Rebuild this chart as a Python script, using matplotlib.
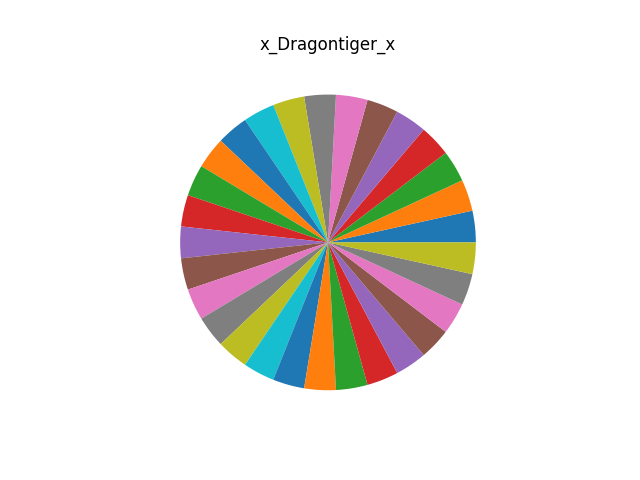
import matplotlib
matplotlib.use('Agg')
import matplotlib.pyplot as plt

# 29 equal slices, no labels
sizes = [1] * 29
title = 'x_Dragontiger_x'

fig, ax = plt.subplots(figsize=(6.4, 4.8), dpi=100)
ax.pie(sizes)
ax.set_title(title)
fig.savefig('out.png')
